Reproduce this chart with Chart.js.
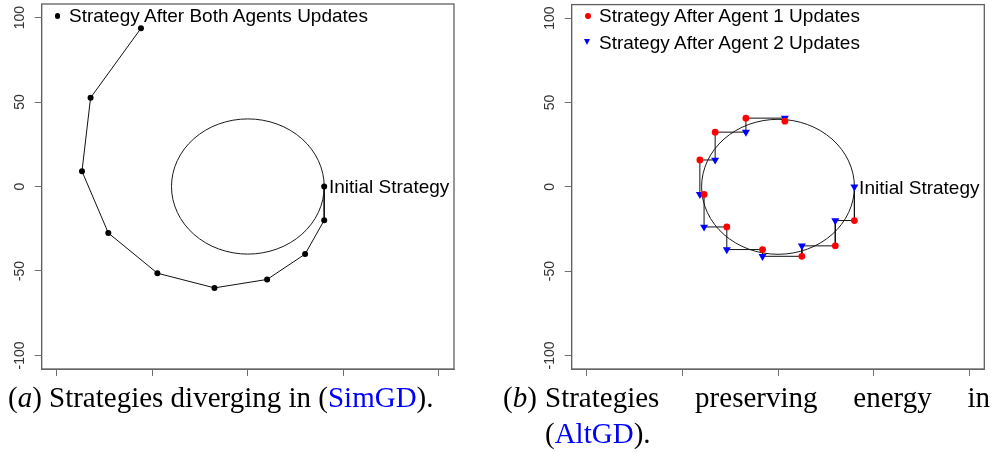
<!DOCTYPE html>
<html><head><meta charset="utf-8">
<script src="https://cdn.jsdelivr.net/npm/chart.js@4/dist/chart.umd.min.js"></script>
<style>
html,body{margin:0;padding:0;background:#fff;width:1001px;height:453px;overflow:hidden}
body{position:relative}
canvas{position:absolute;top:0}
#c1{left:0} #c2{left:520px}
.leg{position:absolute;font-family:"Liberation Sans",Arial,sans-serif;font-size:19px;color:#000;line-height:22px;white-space:nowrap}
.dot{position:absolute;border-radius:50%}
.tri{position:absolute;width:0;height:0;border-left:3.8px solid transparent;border-right:3.8px solid transparent;border-top:6.8px solid #0000ff}
.cap{position:absolute;font-family:"Liberation Serif","Times New Roman",serif;font-size:29px;line-height:36px;color:#000;white-space:nowrap}
.cap i{font-style:italic}
.blue{color:#0000ff}
#capb{left:545px;top:379px;width:445px;white-space:normal;text-align:justify}
</style></head><body>
<canvas id="c1" width="470" height="380"></canvas>
<canvas id="c2" width="481" height="380"></canvas>

<div class="dot" style="left:55px;top:13.3px;width:5.4px;height:5.4px;background:#000"></div>
<div class="leg" style="left:69px;top:5.2px">Strategy After Both Agents Updates</div>

<div class="dot" style="left:584.9px;top:13.2px;width:5.8px;height:5.8px;background:#ff0000"></div>
<div class="leg" style="left:599px;top:5.2px">Strategy After Agent 1 Updates</div>
<div class="tri" style="left:583.9px;top:39px"></div>
<div class="leg" style="left:599px;top:31.5px">Strategy After Agent 2 Updates</div>

<div class="cap" style="left:8px;top:379px">(<i>a</i>)</div>
<div class="cap" style="left:49px;top:379px">Strategies diverging in (<span class="blue">SimGD</span>).</div>
<div class="cap" style="left:503px;top:379px">(<i>b</i>)</div>
<div class="cap" id="capb">Strategies preserving energy in (<span class="blue">AltGD</span>).</div>

<script>
// ---- data ----
const axisMin = -108, axisMax = 108;
const xTicks = [-100, -50, 0, 50, 100];
const yTicks = [-100, -50, 0, 50, 100];
const yTickLabels = ['-100', '-50', '0', '50', '100'];
const circleCenter = [0, 0];
const circleR = 40;
const initialLabel = 'Initial Strategy';
const initialPoint = [40, 0];

// (a) SimGD: strategy after both agents update
const simX = [40, 40, 30, 10.1, -17.5, -47.4, -73.1, -86.9, -82.4, -56];
const simY = [0, -20, -40, -55, -60, -51.3, -27.5, 9, 52.5, 93.6];

// (b) AltGD
const agent1X = [40, 30, 12.5, -8.1, -26.8, -38.7, -40.9, -32.9, -16.8, 3.6];
const agent1Y = [-20, -35, -41.2, -37.2, -23.8, -4.5, 15.9, 32.4, 40.7, 38.9];
const agent2X = [40, 30, 12.5, -8.1, -26.8, -38.7, -40.9, -32.9, -16.8, 3.6];
const agent2Y = [0, -20, -35, -41.2, -37.2, -23.8, -4.5, 15.9, 32.4, 40.7];

// ---- helpers ----
const toPts = (xs, ys) => xs.map((v, i) => ({x: v, y: ys[i]}));
const altPath = [];
agent2X.forEach((v, i) => {
  altPath.push({x: agent2X[i], y: agent2Y[i]});
  altPath.push({x: agent1X[i], y: agent1Y[i]});
});

const overlay = {
  id: 'overlay',
  beforeDatasetsDraw(chart) {
    const {ctx, scales: {x, y}} = chart;
    const cx = x.getPixelForValue(circleCenter[0]);
    const cy = y.getPixelForValue(circleCenter[1]);
    const rx = x.getPixelForValue(circleCenter[0] + circleR) - cx;
    const ry = cy - y.getPixelForValue(circleCenter[1] + circleR);
    ctx.save();
    ctx.beginPath();
    ctx.ellipse(cx, cy, rx, ry, 0, 0, Math.PI * 2);
    ctx.strokeStyle = '#1a1a1a';
    ctx.lineWidth = 1;
    ctx.stroke();
    ctx.restore();
  },
  afterDraw(chart) {
    const {ctx, chartArea: a, scales: {x, y}} = chart;
    ctx.save();
    ctx.strokeStyle = '#606060';
    ctx.lineWidth = 1.3;
    ctx.strokeRect(a.left, a.top, a.right - a.left, a.bottom - a.top);
    ctx.fillStyle = '#000';
    ctx.font = '19px "Liberation Sans", Arial, sans-serif';
    ctx.textAlign = 'left';
    ctx.textBaseline = 'alphabetic';
    ctx.fillText(initialLabel, x.getPixelForValue(initialPoint[0]) + 4.7,
                 y.getPixelForValue(initialPoint[1]) + 6.8);
    ctx.restore();
  }
};

function zeroPad(s) { s.paddingTop = 0; s.paddingBottom = 0; s.paddingLeft = 0; s.paddingRight = 0; }

function scalesCfg(leftW) {
  return {
    x: {
      type: 'linear', min: axisMin, max: axisMax,
      afterBuildTicks: s => { s.ticks = xTicks.map(v => ({value: v})); },
      afterFit: s => { s.height = 7; zeroPad(s); },
      ticks: {display: false},
      grid: {display: true, drawOnChartArea: false, drawTicks: true, tickLength: 7, color: '#707070', lineWidth: 1},
      border: {display: true, color: '#707070', width: 1}
    },
    y: {
      type: 'linear', min: axisMin, max: axisMax,
      afterBuildTicks: s => { s.ticks = yTicks.map(v => ({value: v})); },
      afterFit: s => { s.width = leftW; zeroPad(s); },
      ticks: {
        minRotation: 90, maxRotation: 90, crossAlign: 'center', padding: 1,
        color: '#333', font: {family: '"Liberation Sans", Arial, sans-serif', size: 14},
        callback: (v) => yTickLabels[yTicks.indexOf(v)]
      },
      grid: {display: true, drawOnChartArea: false, drawTicks: true, tickLength: 7, color: '#707070', lineWidth: 1},
      border: {display: true, color: '#707070', width: 1}
    }
  };
}

const common = {
  responsive: false, animation: false, devicePixelRatio: 1,
  plugins: {legend: {display: false}, tooltip: {enabled: false}},
  events: []
};

new Chart(document.getElementById('c1'), {
  type: 'scatter',
  data: {datasets: [{
    data: toPts(simX, simY), showLine: true,
    borderColor: '#111', borderWidth: 1,
    pointRadius: 3, pointBackgroundColor: '#000', pointBorderColor: '#000', pointBorderWidth: 0
  }]},
  options: Object.assign({}, common, {
    layout: {padding: {left: 0, top: 3.3, right: 16, bottom: 4}},
    scales: scalesCfg(41.7)
  }),
  plugins: [overlay]
});

new Chart(document.getElementById('c2'), {
  type: 'scatter',
  data: {datasets: [
    {data: toPts(agent1X, agent1Y), order: 1, pointStyle: 'circle', pointRadius: 3.4,
     pointBackgroundColor: '#ff0000', pointBorderColor: '#ff0000', pointBorderWidth: 0, showLine: false},
    {data: toPts(agent2X, agent2Y), order: 2, pointStyle: 'triangle', rotation: 180, pointRadius: 4.6,
     pointBackgroundColor: '#0000ff', pointBorderColor: '#0000ff', pointBorderWidth: 0, showLine: false},
    {data: altPath, order: 3, showLine: true, borderColor: '#111', borderWidth: 1, pointRadius: 0}
  ]},
  options: Object.assign({}, common, {
    layout: {padding: {left: 0, top: 3.3, right: 16.7, bottom: 4}},
    scales: scalesCfg(51.7)
  }),
  plugins: [overlay]
});
</script>
</body></html>
